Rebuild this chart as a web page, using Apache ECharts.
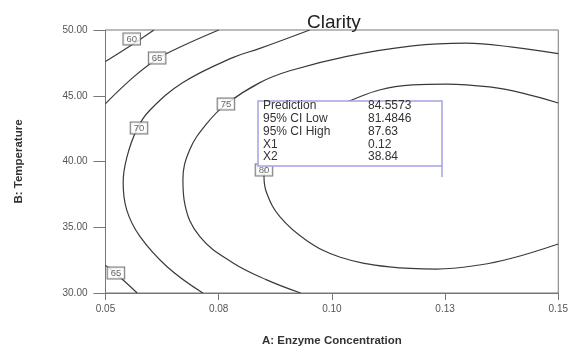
<!DOCTYPE html>
<html>
<head>
<meta charset="utf-8">
<script src="https://cdn.jsdelivr.net/npm/echarts@6/dist/echarts.min.js"></script>
<style>html,body{margin:0;padding:0;background:#fff;}#c{width:571px;height:352px;}</style>
</head>
<body>
<div id="c"></div>
<script>
// ---- data ----
var xTickValues = [0.05, 0.075, 0.1, 0.125, 0.15];
var xTickLabels = ['0.05', '0.08', '0.10', '0.13', '0.15'];
var yTickLabels = ['30.00', '35.00', '40.00', '45.00', '50.00'];

var contour60 = [[0.05, 47.6], [0.0555, 48.8], [0.0607, 50]];
var contour65a = [[0.05, 44.4], [0.0561, 46.4], [0.0614, 47.8], [0.0671, 48.8], [0.075, 50]];
var contour65b = [[0.05, 32.1], [0.0532, 31.2], [0.057, 30]];
var contour70 = [[0.0715, 30], [0.0636, 32.0], [0.0576, 34.3], [0.0547, 36.3], [0.0539, 38.4],
                 [0.0547, 40.3], [0.0570, 42.5], [0.0598, 43.9], [0.0671, 46.0], [0.0781, 47.9],
                 [0.0841, 48.6], [0.0951, 50]];
var contour75 = [[0.0931, 30], [0.0856, 31.0], [0.0781, 32.3], [0.0708, 34.3], [0.0675, 36.8],
                 [0.0671, 38.6], [0.0686, 40.9], [0.0724, 42.9], [0.0768, 44.4], [0.0841, 46.0],
                 [0.0907, 46.9], [0.1033, 48.0], [0.1178, 48.8], [0.1297, 49.0], [0.1399, 48.7],
                 [0.15, 48.2]];
var contour80 = [[0.15, 44.45], [0.1421, 45.2], [0.1348, 45.67], [0.1253, 45.89], [0.1178, 45.82],
                 [0.1105, 45.44], [0.1044, 44.68], [0.0973, 43.7], [0.0911, 42.2], [0.0869, 40.7],
                 [0.0852, 39.35], [0.0850, 38.9], [0.0856, 37.6], [0.0885, 35.8], [0.0944, 34.0],
                 [0.1017, 32.74], [0.1127, 31.98], [0.1231, 31.82], [0.1326, 32.13], [0.1399, 32.66],
                 [0.15, 33.73]];
var contourLabels = [
  {value: [0.0558, 49.32], text: '60'},
  {value: [0.0614, 47.87], text: '65'},
  {value: [0.0574, 42.55], text: '70'},
  {value: [0.0766, 44.37], text: '75'},
  {value: [0.0850, 39.35], text: '80'},
  {value: [0.0523, 31.52], text: '65'}
];
var infoNames = ['Prediction', '95% CI Low', '95% CI High', 'X1', 'X2'];
var infoValues = ['84.5573', '81.4846', '87.63', '0.12', '38.84'];

// ---- chart ----
var chart = echarts.init(document.getElementById('c'));
function contourSeries(d) {
  return {
    type: 'line', data: d, smooth: 0.4, showSymbol: false, silent: true,
    lineStyle: {color: '#3a3a3a', width: 1.2}, clip: true, z: 2
  };
}
var series = [contour60, contour65a, contour65b, contour70, contour75, contour80].map(contourSeries);
var fontFam = 'Liberation Sans, Arial, sans-serif';
series.push({
  type: 'scatter', symbolSize: 0, silent: true, z: 5,
  data: contourLabels.map(function (l) { return {value: l.value, name: l.text}; }),
  label: {
    show: true, position: 'inside', formatter: '{b}', fontSize: 9.5, color: '#444',
    fontFamily: fontFam,
    backgroundColor: '#fff', borderColor: '#555', borderWidth: 1, padding: [1, 3, 0, 3]
  }
});

var infoText = [];
var rowY = [107, 120, 133, 146, 158];
for (var i = 0; i < infoNames.length; i++) {
  infoText.push({type: 'text', left: 263, top: rowY[i] - 7, z: 20,
    style: {text: infoNames[i], fontSize: 12, fill: '#333', fontFamily: fontFam}});
  infoText.push({type: 'text', left: 368, top: rowY[i] - 7, z: 20,
    style: {text: infoValues[i], fontSize: 12, fill: '#333', fontFamily: fontFam}});
}

chart.setOption({
  animation: false,
  backgroundColor: '#fff',
  title: {
    text: 'Clarity', left: 302, top: 8,
    textStyle: {fontSize: 19, fontWeight: 'normal', color: '#222', fontFamily: fontFam}
  },
  grid: {left: 105.5, right: 12, top: 30, bottom: 59, show: true, borderColor: '#777', borderWidth: 1},
  xAxis: {
    type: 'value', min: 0.05, max: 0.15, interval: 0.025,
    name: 'A: Enzyme Concentration', nameLocation: 'middle', nameGap: 42,
    nameTextStyle: {fontSize: 11.5, fontWeight: 'bold', color: '#333', fontFamily: fontFam},
    axisLine: {lineStyle: {color: '#777'}},
    axisTick: {length: 7, lineStyle: {color: '#777'}},
    axisLabel: {
      fontSize: 10, color: '#555', margin: 11, fontFamily: fontFam,
      formatter: function (v) {
        for (var k = 0; k < xTickValues.length; k++) if (Math.abs(v - xTickValues[k]) < 1e-6) return xTickLabels[k];
        return '';
      }
    },
    splitLine: {show: false}
  },
  yAxis: {
    type: 'value', min: 30, max: 50, interval: 5,
    name: 'B: Temperature', nameLocation: 'middle', nameGap: 81,
    nameTextStyle: {fontSize: 11.5, fontWeight: 'bold', color: '#333', fontFamily: fontFam},
    axisLine: {show: true, lineStyle: {color: '#777'}},
    axisTick: {show: true, length: 12, lineStyle: {color: '#777'}},
    axisLabel: {
      fontSize: 10, color: '#555', margin: 18, fontFamily: fontFam,
      formatter: function (v) { return yTickLabels[Math.round((v - 30) / 5)]; }
    },
    splitLine: {show: false}
  },
  series: series,
  graphic: [
    {type: 'rect', shape: {x: 258, y: 101, width: 184, height: 65}, z: 15,
     style: {fill: '#fff', stroke: '#a3a3e6', lineWidth: 1.5}},
    {type: 'line', shape: {x1: 442, y1: 166, x2: 442, y2: 177}, z: 15,
     style: {stroke: '#a3a3e6', lineWidth: 1.5}}
  ].concat(infoText)
});
</script>
</body>
</html>
